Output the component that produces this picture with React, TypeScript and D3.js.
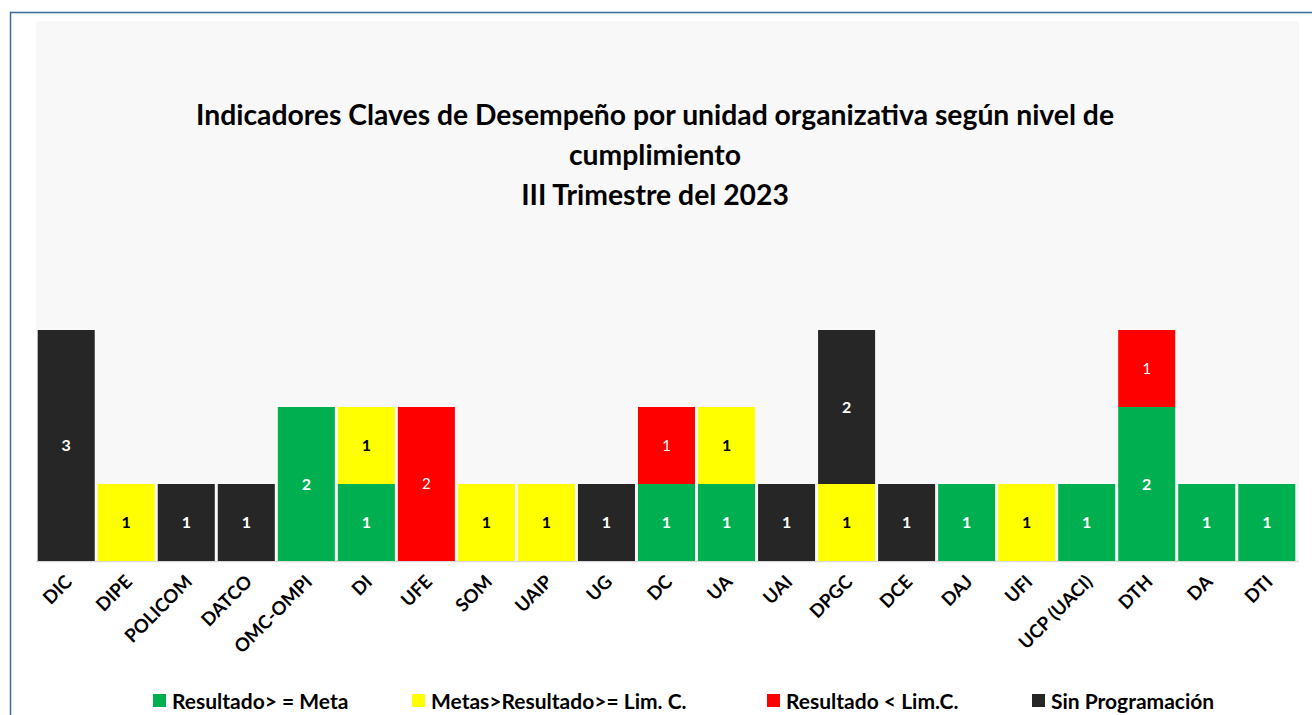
import * as d3 from 'd3';
import React, { useRef, useEffect } from 'react';

const units = ['DIC', 'DIPE', 'POLICOM', 'DATCO', 'OMC-OMPI', 'DI', 'UFE', 'SOM', 'UAIP', 'UG', 'DC', 'UA', 'UAI', 'DPGC', 'DCE', 'DAJ', 'UFI', 'UCP (UACI)', 'DTH', 'DA', 'DTI'];
const meta = [0, 0, 0, 0, 2, 1, 0, 0, 0, 0, 1, 1, 0, 0, 0, 1, 0, 1, 2, 1, 1];
const limC = [0, 1, 0, 0, 0, 1, 0, 1, 1, 0, 0, 1, 0, 1, 0, 0, 1, 0, 0, 0, 0];
const bajo = [0, 0, 0, 0, 0, 0, 2, 0, 0, 0, 1, 0, 0, 0, 0, 0, 0, 0, 1, 0, 0];
const sinProg = [3, 0, 1, 1, 0, 0, 0, 0, 0, 1, 0, 0, 1, 2, 1, 0, 0, 0, 0, 0, 0];
const seriesNames = ['Resultado> = Meta', 'Metas>Resultado>= Lim. C.', 'Resultado < Lim.C.', 'Sin Programación'];
const titleLines = ['Indicadores Claves de Desempeño por unidad organizativa según nivel de', 'cumplimiento', 'III Trimestre del 2023'];

const colors = ['#00b050', '#ffff00', '#ff0000', '#262626'];
const labelColors = ['#ffffff', '#000000', '#ffffff', '#ffffff'];
const labelWeights = ['bold', 'bold', 'normal', 'bold'];

function Chart({ width, height }) {
    const ref = useRef();

    useEffect(() => {
        const svg = d3.select(ref.current);
        svg.selectAll('*').remove();
        const font = 'Lato, Carlito, Calibri, sans-serif';

        const table = units.map((u, i) => ({ unit: u, s0: meta[i], s1: limC[i], s2: bajo[i], s3: sinProg[i] }));
        const keys = ['s0', 's1', 's2', 's3'];
        const stacked = d3.stack().keys(keys)(table);

        const plotLeft = 36, plotRight = 1299, plotTop = 21, baseY = 561;

        // outer frame
        svg.append('path')
            .attr('d', `M10.5,${height} L10.5,12.5 L${width},12.5`)
            .attr('fill', 'none')
            .attr('stroke', '#3e6a9a')
            .attr('stroke-width', 1.5);

        svg.append('rect')
            .attr('x', plotLeft).attr('y', plotTop)
            .attr('width', plotRight - plotLeft).attr('height', baseY - plotTop)
            .attr('fill', '#f8f8f8');

        const x = d3.scaleBand().domain(units).range([36.5, 1296.5]).paddingInner(0.05).paddingOuter(0.02);
        const y = d3.scaleLinear().domain([0, 3]).range([baseY, 330]);

        svg.append('line')
            .attr('x1', plotLeft).attr('x2', plotRight)
            .attr('y1', baseY + 0.5).attr('y2', baseY + 0.5)
            .attr('stroke', '#d9d9d9').attr('stroke-width', 1.5);

        stacked.forEach((layer, si) => {
            const g = svg.append('g');
            layer.forEach((d, i) => {
                if (d[1] - d[0] <= 0) return;
                g.append('rect')
                    .attr('x', x(units[i]))
                    .attr('y', y(d[1]))
                    .attr('width', x.bandwidth())
                    .attr('height', y(d[0]) - y(d[1]))
                    .attr('fill', colors[si]);
                g.append('text')
                    .attr('x', x(units[i]) + x.bandwidth() / 2)
                    .attr('y', (y(d[0]) + y(d[1])) / 2)
                    .attr('dy', '0.35em')
                    .attr('text-anchor', 'middle')
                    .attr('font-family', font)
                    .attr('font-size', si === 2 ? 15 : 16)
                    .attr('font-weight', labelWeights[si])
                    .attr('fill', labelColors[si])
                    .text(d[1] - d[0]);
            });
        });

        // category labels
        units.forEach(u => {
            const cx = x(u) + x.bandwidth() / 2 + 7;
            svg.append('text')
                .attr('transform', `translate(${cx},${baseY + 22}) rotate(-45)`)
                .attr('text-anchor', 'end')
                .attr('font-family', font)
                .attr('font-size', 18.5)
                .attr('font-weight', 'bold')
                .attr('fill', '#000')
                .text(u);
        });

        // title
        const ty = [125, 165, 205];
        titleLines.forEach((t, i) => {
            svg.append('text')
                .attr('x', 655).attr('y', ty[i])
                .attr('text-anchor', 'middle')
                .attr('font-family', font)
                .attr('font-size', 28.3)
                .attr('font-weight', 'bold')
                .attr('fill', '#000')
                .text(t);
        });

        // legend
        const lx = [153, 412, 767, 1032];
        seriesNames.forEach((n, i) => {
            svg.append('rect')
                .attr('x', lx[i]).attr('y', 694)
                .attr('width', 13).attr('height', 13)
                .attr('fill', colors[i]);
            svg.append('text')
                .attr('x', lx[i] + 19).attr('y', 709)
                .attr('font-family', font)
                .attr('font-size', 21)
                .attr('font-weight', 'bold')
                .attr('fill', '#000')
                .text(n);
        });
    }, []);

    return (
        <svg ref={ref} width={width} height={height} style={{ display: 'block' }}></svg>
    );
}

export default function App() {
    return (
        <div style={{ position: 'absolute', left: 0, top: 0 }}>
            <Chart width={1312} height={715} />
        </div>
    );
}
